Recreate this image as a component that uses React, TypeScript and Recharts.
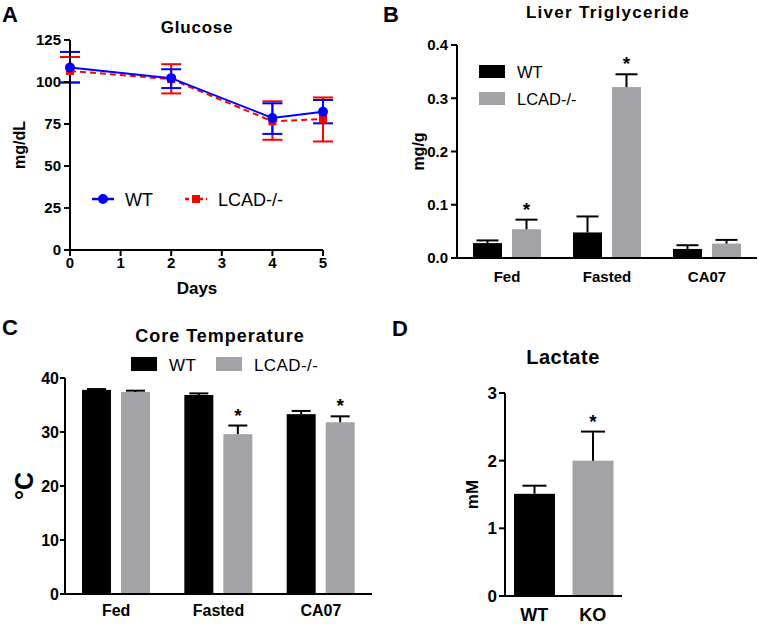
import React from 'react'
import {
  LineChart, Line, BarChart, Bar, Cell, XAxis, YAxis, ErrorBar, Legend,
} from 'recharts'

const FONT = '"Liberation Sans", Arial, Helvetica, sans-serif'
const BLUE = '#0000ff'
const RED = '#ff0000'
const GRAY = '#a3a3a7'

// A - glucose over days
const days = [0, 2, 4, 5]
const dayTicks = [0, 1, 2, 3, 4, 5]
const glucTicks = [0, 25, 50, 75, 100, 125]
const glucWT = [108.6, 102.3, 78.6, 82.3]
const glucWTLo = [99.7, 96.4, 69.1, 75.4]
const glucWTHi = [117.9, 107.6, 87.3, 89.3]
const glucKO = [106.6, 101.7, 76.6, 78.0]
const glucKOLo = [99.7, 93.2, 65.6, 64.6]
const glucKOHi = [114.9, 110.6, 88.5, 90.8]

// B - liver triglyceride
const conds = ['Fed', 'Fasted', 'CA07']
const triTicks = [0, 0.1, 0.2, 0.3, 0.4]
const triWT = [0.028, 0.048, 0.017]
const triWTHi = [0.033, 0.078, 0.024]
const triKO = [0.054, 0.321, 0.027]
const triKOHi = [0.072, 0.345, 0.034]
const triKOSig = [true, true, false]

// C - core temperature
const tempTicks = [0, 10, 20, 30, 40]
const tempWT = [37.8, 36.85, 33.3]
const tempWTHi = [37.95, 37.15, 33.9]
const tempKO = [37.4, 29.6, 31.8]
const tempKOHi = [37.65, 31.2, 32.9]
const tempKOSig = [false, true, true]

// D - lactate
const lacCats = ['WT', 'KO']
const lacTicks = [0, 1, 2, 3]
const lacMean = [1.51, 2.0]
const lacHi = [1.63, 2.43]
const lacSig = [false, true]

const glucRows = days.map((d, i) => ({
  day: d,
  wt: glucWT[i],
  wtErr: [glucWT[i] - glucWTLo[i], glucWTHi[i] - glucWT[i]],
  ko: glucKO[i],
  koErr: [glucKO[i] - glucKOLo[i], glucKOHi[i] - glucKO[i]],
}))

const triRows = conds.map((c, i) => ({
  cat: c, wt: triWT[i], wtHi: triWTHi[i], ko: triKO[i], koHi: triKOHi[i], koSig: triKOSig[i],
}))

const tempRows = conds.map((c, i) => ({
  cat: c, wt: tempWT[i], wtHi: tempWTHi[i], ko: tempKO[i], koHi: tempKOHi[i], koSig: tempKOSig[i],
}))

const lacRows = lacCats.map((c, i) => ({ cat: c, v: lacMean[i], hi: lacHi[i], sig: lacSig[i] }))

const axisLine = { stroke: '#000', strokeWidth: 2 }
const tickFont = (size: number) => ({ fill: '#000', fontSize: size, fontWeight: 'bold', fontFamily: FONT })

// bar with an upper-only error bar and optional star
function barWithErr(meanKey: string, hiKey: string, sigKey: string | null, cap: number) {
  return (props: any) => {
    const { x, y, width, height, fill, payload } = props
    const mean = payload[meanKey]
    const k = mean ? height / mean : 0
    const top = y - (payload[hiKey] - mean) * k
    const cx = x + width / 2
    return (
      <g>
        <rect x={x} y={y} width={width} height={height} fill={fill} />
        <line x1={cx} y1={y} x2={cx} y2={top} stroke="#000" strokeWidth={2} />
        <line x1={cx - cap / 2} y1={top} x2={cx + cap / 2} y2={top} stroke="#000" strokeWidth={2} />
        {sigKey && payload[sigKey] ? (
          <text x={cx} y={top - 4} textAnchor="middle" fontSize={19} fontWeight="bold" fontFamily={FONT} fill="#000">*</text>
        ) : null}
      </g>
    )
  }
}

const order = (p: any[]) => [...(p || [])].sort((a, b) => (a.value === 'WT' ? -1 : b.value === 'WT' ? 1 : 0))

const LineKey = ({ payload }: any) => (
  <svg width={270} height={28}>
    {order(payload).map((p: any, i: number) => {
      const x0 = i * 93
      const c = p.color
      return (
        <g key={p.value}>
          <line x1={x0 + 7} y1={14} x2={x0 + 29} y2={14} stroke={c} strokeWidth={2.5}
            strokeDasharray={i === 1 ? '4 3' : undefined} />
          {i === 0
            ? <circle cx={x0 + 18} cy={14} r={5} fill={c} />
            : <rect x={x0 + 14} y={10} width={8} height={8} fill={c} />}
          <text x={x0 + 40} y={20.5} fontSize={18} fontFamily={FONT} fill="#000">{p.value}</text>
        </g>
      )
    })}
  </svg>
)

const BoxKeyV = ({ payload }: any) => (
  <svg width={160} height={60}>
    {order(payload).map((p: any, i: number) => (
      <g key={p.value}>
        <rect x={0} y={5 + i * 27} width={26} height={13} fill={p.color} />
        <text x={38} y={17.5 + i * 27} fontSize={16.5} fontFamily={FONT} fill="#000">{p.value}</text>
      </g>
    ))}
  </svg>
)

const BoxKeyH = ({ payload }: any) => (
  <svg width={230} height={26}>
    {order(payload).map((p: any, i: number) => (
      <g key={p.value}>
        <rect x={i * 85} y={5} width={26} height={14} fill={p.color} />
        <text x={i * 85 + 38} y={18.5} fontSize={17} fontFamily={FONT} fill="#000" letterSpacing={0.4}>{p.value}</text>
      </g>
    ))}
  </svg>
)

const square = (props: any) => (
  <rect key={`sq-${props.index}`} x={props.cx - 4} y={props.cy - 4} width={8} height={8} fill={RED} />
)

function yLabel(value: string, offset: number, size: number) {
  return {
    value, angle: -90, position: 'insideLeft' as const, offset,
    style: { textAnchor: 'middle', fontSize: size, fontWeight: 'bold', fontFamily: FONT, fill: '#000' },
  }
}

export default function App() {
  const abs = (left: number, top: number): React.CSSProperties => ({ position: 'absolute', left, top })
  return (
    <div style={{ position: 'absolute', left: 0, top: 0, width: 759, height: 626, background: '#fff', fontFamily: FONT }}>
      <div style={abs(0, 0)}>
        <LineChart width={340} height={300} data={glucRows} margin={{ top: 40, right: 17, bottom: 20, left: 0 }}>
          <XAxis type="number" dataKey="day" domain={[0, 5]} ticks={dayTicks} height={30}
            axisLine={axisLine} tickLine={axisLine} tickSize={6} tickMargin={1} tick={tickFont(15)} />
          <YAxis domain={[0, 125]} ticks={glucTicks} width={70} axisLine={axisLine} tickLine={axisLine}
            tickSize={6} tickMargin={3} tick={tickFont(15)} label={yLabel('mg/dL', 19, 16)} />
          <Line dataKey="ko" name="LCAD-/-" stroke={RED} strokeWidth={2} strokeDasharray="6 4"
            dot={square} activeDot={false} isAnimationActive={false}>
            <ErrorBar dataKey="koErr" width={10} stroke={RED} strokeWidth={2} direction="y" />
          </Line>
          <Line dataKey="wt" name="WT" stroke={BLUE} strokeWidth={2}
            dot={{ r: 5, fill: BLUE, stroke: BLUE, strokeWidth: 0 }} activeDot={false} isAnimationActive={false}>
            <ErrorBar dataKey="wtErr" width={10} stroke={BLUE} strokeWidth={2} direction="y" />
          </Line>
          <Legend layout="horizontal" align="center" verticalAlign="middle" content={LineKey}
            wrapperStyle={{ left: 85, top: 185, width: 270, height: 28 }} />
        </LineChart>
      </div>

      <div style={abs(380, 0)}>
        <BarChart width={379} height={300} data={triRows} barSize={29} barGap={10}
          margin={{ top: 45, right: 2, bottom: 12, left: 0 }}>
          <XAxis dataKey="cat" height={30} axisLine={axisLine} tickLine={false} tickSize={0}
            tickMargin={13} tick={tickFont(15)} />
          <YAxis domain={[0, 0.4]} ticks={triTicks} width={77} axisLine={axisLine} tickLine={axisLine}
            tickSize={6} tickMargin={3} tick={tickFont(15)} tickFormatter={(v: number) => v.toFixed(1)}
            label={yLabel('mg/g', 38, 16)} />
          <Bar dataKey="wt" name="WT" fill="#000" isAnimationActive={false}
            shape={barWithErr('wt', 'wtHi', null, 22)} />
          <Bar dataKey="ko" name="LCAD-/-" fill={GRAY} isAnimationActive={false}
            shape={barWithErr('ko', 'koHi', 'koSig', 22)} />
          <Legend layout="horizontal" align="center" verticalAlign="middle" content={BoxKeyV}
            wrapperStyle={{ left: 99, top: 60, width: 160, height: 60 }} />
        </BarChart>
      </div>

      <div style={abs(0, 310)}>
        <BarChart width={390} height={316} data={tempRows} barSize={29} barGap={10}
          margin={{ top: 68, right: 18, bottom: 2, left: 0 }}>
          <XAxis dataKey="cat" height={30} axisLine={axisLine} tickLine={false} tickSize={0}
            tickMargin={11} tick={tickFont(16)} />
          <YAxis domain={[0, 40]} ticks={tempTicks} width={65} axisLine={axisLine} tickLine={axisLine}
            tickSize={5} tickMargin={1} tick={tickFont(16)} label={yLabel('°C', 24, 25)} />
          <Bar dataKey="wt" name="WT" fill="#000" isAnimationActive={false}
            shape={barWithErr('wt', 'wtHi', null, 19)} />
          <Bar dataKey="ko" name="LCAD-/-" fill={GRAY} isAnimationActive={false}
            shape={barWithErr('ko', 'koHi', 'koSig', 19)} />
          <Legend layout="horizontal" align="center" verticalAlign="middle" content={BoxKeyH}
            wrapperStyle={{ left: 131, top: 42, width: 230, height: 26 }} />
        </BarChart>
      </div>

      <div style={abs(390, 310)}>
        <BarChart width={369} height={316} data={lacRows} barSize={41}
          margin={{ top: 83, right: 137, bottom: 0, left: 0 }}>
          <XAxis dataKey="cat" height={30} axisLine={axisLine} tickLine={false} tickSize={0}
            tickMargin={12} tick={tickFont(18)} />
          <YAxis domain={[0, 3]} ticks={lacTicks} width={115} axisLine={axisLine} tickLine={axisLine}
            tickSize={6} tickMargin={2} tick={tickFont(17)} label={yLabel('mM', 82, 17)} />
          <Bar dataKey="v" isAnimationActive={false} shape={barWithErr('v', 'hi', 'sig', 24)}>
            {lacRows.map((r, i) => <Cell key={r.cat} fill={i === 0 ? '#000' : GRAY} />)}
          </Bar>
        </BarChart>
      </div>

      <svg width={759} height={626} style={{ position: 'absolute', left: 0, top: 0, pointerEvents: 'none' }}
        fontFamily={FONT} fontWeight="bold" fill="#000">
        <text x={2} y={22} fontSize={22}>A</text>
        <text x={383} y={22} fontSize={22}>B</text>
        <text x={2} y={335} fontSize={22}>C</text>
        <text x={392} y={336} fontSize={22}>D</text>
        <text x={197} y={33} fontSize={17} textAnchor="middle" letterSpacing={0.8}>Glucose</text>
        <text x={608} y={18} fontSize={17} textAnchor="middle" letterSpacing={1.3}>Liver Triglyceride</text>
        <text x={220} y={342} fontSize={18} textAnchor="middle" letterSpacing={1}>Core Temperature</text>
        <text x={563} y={364} fontSize={20} textAnchor="middle" letterSpacing={0.5}>Lactate</text>
        <text x={197} y={294} fontSize={17} textAnchor="middle">Days</text>
      </svg>
    </div>
  )
}
